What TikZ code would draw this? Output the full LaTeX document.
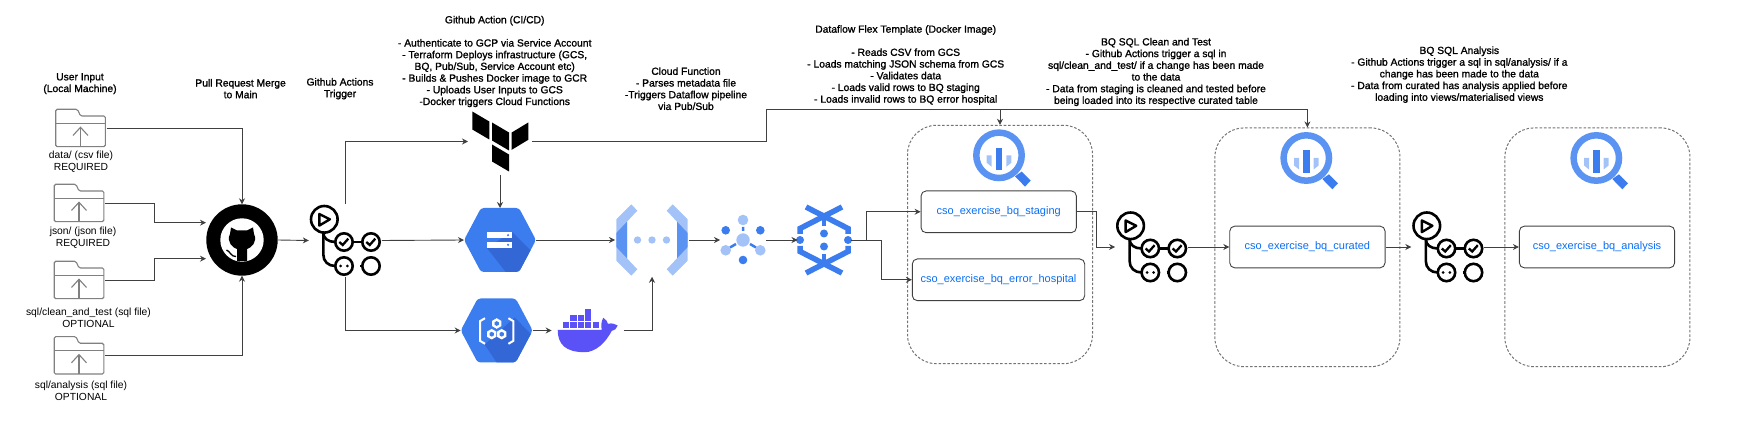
\documentclass[tikz,border=0pt]{standalone}
\usepackage{fontspec}
\setmainfont{Liberation Sans}
\newfontfamily\titlefont[FakeBold=1.3]{Liberation Sans}
\usetikzlibrary{arrows.meta,calc}

\definecolor{gcpblue}{HTML}{3B7CEE}
\definecolor{gcpshade}{HTML}{3367D6}
\definecolor{gcpmid}{HTML}{5B93F2}
\definecolor{gcplight}{HTML}{A3C3F8}
\definecolor{dockerblue}{HTML}{5A52F6}
\definecolor{tabletext}{HTML}{0A6EF5}

\newcommand{\hexpath}{(-36,0) -- (-19,-32) -- (19,-32) -- (36,0) -- (19,32) -- (-19,32) -- cycle}

\tikzset{
    flow/.style={draw=black!75, line width=0.9pt, -{Stealth[length=6pt,width=6pt]}},
    iconbox/.style={inner sep=0pt, outer sep=1pt},
    lbl/.style={align=center, font=\fontsize{10.3}{11.7}\selectfont},
    title/.style={lbl, font=\fontsize{10.3}{11.7}\selectfont\titlefont},
    tablebox/.style={draw=black!75, line width=0.9pt, rounded corners=5pt, text=tabletext,
        inner sep=0pt, font=\fontsize{11}{13}\selectfont},
    dashbox/.style={draw=black!55, line width=1pt, dash pattern=on 2.6pt off 1.8pt, rounded corners=29pt,
        inner sep=0pt, minimum width=185pt},
    foldericon/.pic={
        \draw[black!50, line width=1.1pt, rounded corners=1.5pt]
            (-24.8,-14) -- (-24.8,-18.7) -- (-3,-18.7) -- (0,-12) -- (24.8,-12) -- (24.8,18.7) -- (-24.8,18.7) -- cycle;
        \draw[black!50, line width=1.1pt] (-24.8,-4.7) -- (24.8,-4.7);
        \draw[black!50, line width=1.1pt] (0,18.7) -- (0,-0.7);
        \draw[black!50, line width=1.1pt] (-7.5,7.5) -- (0,-0.7) -- (7.5,7.5);
    },
    githubicon/.pic={
        \fill[black] (0,0) circle (35.7);
        \fill[white] (0,0) circle (21.7);
        \fill[black] (-11,-12.5) -- (-5,-9.5) -- (5,-9.5) -- (11,-12.5) -- (12,-6)
            .. controls (16,2) and (9,8) .. (5,9) -- (5,21) -- (-5,21) -- (-5,9)
            .. controls (-9,8) and (-16,2) .. (-12,-6) -- cycle;
        \draw[black, line width=1.3pt] (-15.5,10) .. controls (-12,11) and (-11,17) .. (-6,16.5);
    },
    actionsicon/.pic={
        \draw[black, line width=2.6pt] (-21,-21.2) circle (13.3);
        \draw[black, line width=2.4pt, line join=round] (-26,-26.5) -- (-26,-14.9) -- (-15.4,-21.2) -- cycle;
        \draw[black, line width=2.6pt] (-1.3,1.5) circle (8.7);
        \draw[black, line width=2.6pt] (25.7,1.5) circle (8.7);
        \draw[black, line width=2.6pt] (-1.3,25.5) circle (8.7);
        \draw[black, line width=2.6pt] (25.7,25.5) circle (8.7);
        \draw[black, line width=2.6pt] (7.4,1.5) -- (17,1.5);
        \draw[black, line width=2.6pt] (15,25.5) -- (17,25.5);
        \draw[black, line width=2.6pt] (-22,-8) .. controls (-22,-2) and (-17,1.5) .. (-10,1.5);
        \draw[black, line width=2.6pt] (-22,-8) -- (-22,14) .. controls (-22,21) and (-17,25.5) .. (-10,25.5);
        \foreach \cx in {-1.3,25.7} {
            \draw[black, line width=2.3pt] (\cx-4.7,1.5) -- (\cx-1.3,4.5) -- (\cx+4.3,-1.8);
        }
        \fill[black] (-4.6,25.5) circle (1.5);
        \fill[black] (2,25.5) circle (1.5);
    },
    terraformicon/.pic={
        \fill[black] (-27.7,-30) -- (-10.7,-20) -- (-10.7,-2) -- (-27.7,-12) -- cycle;
        \fill[black] (-8,-19) -- (9,-9) -- (9,9) -- (-8,-1) -- cycle;
        \fill[black] (11.7,-9) -- (28.3,-19) -- (28.3,-1.7) -- (11.7,8.3) -- cycle;
        \fill[black] (-8,3) -- (9,13) -- (9,30) -- (-8,20) -- cycle;
    },
    gcsicon/.pic={
        \fill[gcpblue, rounded corners=3pt] \hexpath;
        \begin{scope}
            \clip[rounded corners=3pt] \hexpath;
            \fill[gcpshade] (-13,8) -- (12,-8) -- (50,30) -- (12,40) -- cycle;
        \end{scope}
        \fill[white] (-13,-7.7) rectangle (12,-2);
        \fill[white] (-13,1.7) rectangle (12,8);
        \fill[gcpblue] (8,-4.8) circle (1.2);
        \fill[gcpblue] (8,4.8) circle (1.2);
    },
    registryicon/.pic={
        \fill[gcpblue, rounded corners=3pt] \hexpath;
        \begin{scope}
            \clip[rounded corners=3pt] \hexpath;
            \fill[gcpshade] (-12,14) -- (18,-13) -- (50,20) -- (12,50) -- cycle;
        \end{scope}
        \foreach \s in {1,-1} {
            \draw[white, line width=2pt] ({\s*-11.7},-12.3) -- ({\s*-16.7},-9.3) -- ({\s*-16.7},10.3) -- ({\s*-11.7},13.3);
        }
        \foreach \hx/\hy in {0/-7,-5/3.7,5/3.7} {
            \fill[white] (\hx,\hy-5.3) -- (\hx+4.6,\hy-2.6) -- (\hx+4.6,\hy+2.6) -- (\hx,\hy+5.3)
                -- (\hx-4.6,\hy+2.6) -- (\hx-4.6,\hy-2.6) -- cycle;
            \fill[gcpblue] (\hx,\hy-2.4) -- (\hx+2.1,\hy-1.2) -- (\hx+2.1,\hy+1.2) -- (\hx,\hy+2.4)
                -- (\hx-2.1,\hy+1.2) -- (\hx-2.1,\hy-1.2) -- cycle;
        }
    },
    dockericon/.pic={
        \fill[dockerblue] (-3,-21.7) rectangle (3.4,-15.7);
        \foreach \cx in {-17.4,-10,-2.7} { \fill[dockerblue] (\cx,-15) rectangle (\cx+6.2,-9); }
        \foreach \cx in {-25,-17.4,-10,-2.7,5} { \fill[dockerblue] (\cx,-8) rectangle (\cx+6.2,-2); }
        \fill[dockerblue] (-30,-0.7) -- (14,-0.7) .. controls (13,-6) and (14,-10) .. (15.6,-12.7)
            .. controls (18,-11) and (20,-9) .. (20.3,-6.7) .. controls (24,-7.5) and (27,-7) .. (30,-5)
            .. controls (29,-2) and (27,0) .. (24,0.5) .. controls (18,12) and (8,21.7) .. (-3,21.7)
            .. controls (-22,21.7) and (-30,14) .. (-30,-0.7) -- cycle;
    },
    functionicon/.pic={
        \foreach \s in {1,-1} {
            \begin{scope}[xscale=\s]
                \fill[gcplight] (-20.7,-35.7) -- (-14.7,-29.3) -- (-25,-18.3) -- (-25,18.3) -- (-14.7,29.3)
                    -- (-20.7,35.7) -- (-35.7,20.7) -- (-35.7,-20.7) -- cycle;
                \fill[gcpmid] (-25,-18.3) -- (-25,18.3) -- (-35.7,7) -- (-35.7,-7) -- cycle;
            \end{scope}
        }
        \foreach \cx in {-14.5,0,14.5} { \fill[gcplight] (\cx,0) circle (3.7); }
    },
    pubsubicon/.pic={
        \draw[gcpblue, line width=2.5pt] (0,-13) -- (0,-9) (-13,7.5) -- (-7,4) (13,7.5) -- (7,4);
        \fill[gcplight] (0,0) circle (6.7);
        \foreach \px/\py in {0/-20,-17.3/10.3,17.3/10.3} { \fill[gcplight] (\px,\py) circle (5.3); }
        \foreach \px/\py in {-17.3/-9.7,17.3/-9.7,0/20} { \fill[gcpblue] (\px,\py) circle (4.3); }
    },
    dataflowicon/.pic={
        \foreach \s in {1,-1} {
            \begin{scope}[xscale=\s]
                \draw[gcpblue, line width=5.5pt] (-18,-33) -- (24,-11.5) -- (24,-6);
                \draw[gcpblue, line width=5.5pt] (-18,33) -- (24,11.5) -- (24,6);
                \fill[gcpblue] (24,0) circle (4);
            \end{scope}
        }
        \draw[gcpblue, line width=4pt] (0,-24) -- (0,-14) (0,14) -- (0,24);
        \fill[gcpblue] (0,-6.5) circle (4);
        \fill[gcpblue] (0,6.5) circle (4);
    },
    bqicon/.pic={
        \draw[gcpmid, line width=6.5pt] (0,0) circle (22.7);
        \fill[gcpblue] (-3.3,-7.7) rectangle (3.3,14.7);
        \fill[gcplight] (-12.3,0) -- (-7.3,0) -- (-7.3,11.5) -- (-12.3,7.5) -- cycle;
        \fill[gcplight] (12.3,0) -- (7.3,0) -- (7.3,11.5) -- (12.3,7.5) -- cycle;
        \fill[gcpblue] (16,21) -- (22.7,16.3) -- (31.7,25.3) -- (26,31.3) -- cycle;
    }
}

\begin{document}
\begin{tikzpicture}[x=1pt,y=-1pt]
    \useasboundingbox (0,0) rectangle (1743,427);

    % Dashed BigQuery groups
    \node[dashbox, minimum height=238.4pt] (dash1) at (1000,244.5) {};
    \node[dashbox, minimum height=238.7pt] (dash2) at (1307.4,247.3) {};
    \node[dashbox, minimum height=238.7pt] (dash3) at (1597.4,247.3) {};
    \pic at (999,155.3) {bqicon};
    \pic at (1306.3,158) {bqicon};
    \pic at (1596.3,158) {bqicon};

    % Tables
    \node[tablebox, minimum width=155.3pt, minimum height=41.7pt] (staging) at (998.7,211.8) {cso\_exercise\_bq\_staging};
    \node[tablebox, minimum width=172.4pt, minimum height=41.7pt] (hospital) at (998.5,279.8) {cso\_exercise\_bq\_error\_hospital};
    \node[tablebox, minimum width=155.3pt, minimum height=41.7pt] (curated) at (1307.4,247) {cso\_exercise\_bq\_curated};
    \node[tablebox, minimum width=155.3pt, minimum height=41.7pt] (analysis) at (1597,247) {cso\_exercise\_bq\_analysis};

    % Input folders and their labels
    \foreach \nm/\fx/\fy/\lx/\ly/\txt in {
        folder1/80.5/128/81/161.7/{data/ (csv file)\\REQUIRED},
        folder2/79/203/83/237.7/{json/ (json file)\\REQUIRED},
        folder3/79/280/88.5/318/{sql/clean\_and\_test (sql file)\\OPTIONAL},
        folder4/79/355.3/81/390.7/{sql/analysis (sql file)\\OPTIONAL}} {
        \node[iconbox, minimum width=50pt, minimum height=37.5pt] (\nm) at (\fx,\fy) {};
        \pic at (\nm) {foldericon};
        \node[lbl] (\nm text) at (\lx,\ly) {\txt};
    }

    % Icons
    \node[iconbox, minimum width=71.4pt, minimum height=71.4pt, outer sep=0pt] (github) at (242,240) {};
    \pic at (github) {githubicon};
    \foreach \nm/\cx/\cy in {act1/345.3/240.5, act2/1151.6/247, act3/1447.8/247} {
        \node[iconbox, minimum width=71pt, minimum height=71pt] (\nm) at (\cx,\cy) {};
        \pic at (\nm) {actionsicon};
    }
    \node[iconbox, minimum width=56pt, minimum height=60pt, outer sep=4pt] (terraform) at (500,141.5) {};
    \pic at (terraform) {terraformicon};
    \node[iconbox, minimum width=72pt, minimum height=64pt, outer sep=0pt] (gcs) at (500,240) {};
    \pic at (gcs) {gcsicon};
    \node[iconbox, minimum width=72pt, minimum height=64pt, outer sep=0pt] (registry) at (496.7,330.5) {};
    \pic at (registry) {registryicon};
    \node[iconbox, minimum width=60pt, minimum height=44pt, outer sep=6pt] (docker) at (587.7,330.5) {};
    \pic at (docker) {dockericon};
    \node[iconbox, minimum width=72pt, minimum height=71.5pt, outer sep=1pt] (function) at (652,240) {};
    \pic at (function) {functionicon};
    \node[iconbox, minimum width=46pt, minimum height=50pt, outer sep=0pt] (pubsub) at (743,240) {};
    \pic at (pubsub) {pubsubicon};
    \node[iconbox, minimum width=53pt, minimum height=71pt, outer sep=0pt] (dataflow) at (824,240) {};
    \pic at (dataflow) {dataflowicon};

    % Titles
    \node[title] (inputtext) at (80,83.7) {User Input\\(Local Machine)};
    \node[title] (prtext) at (240.6,88.7) {Pull Request Merge\\to Main};
    \node[title] (triggertext) at (340,88.7) {Github Actions\\Trigger};
    \node[title] (cicdtext) at (494.7,61.5) {Github Action (CI/CD)\\[11.5pt]- Authenticate to GCP via Service Account\\- Terraform Deploys infrastructure (GCS,\\BQ, Pub/Sub, Service Account etc)\\- Builds \& Pushes Docker image to GCR\\- Uploads User Inputs to GCS\\-Docker triggers Cloud Functions};
    \node[title] (functiontext) at (686,88.7) {Cloud Function\\- Parses metadata file\\-Triggers Dataflow pipeline\\via Pub/Sub};
    \node[title] (dataflowtext) at (905.7,65) {Dataflow Flex Template (Docker Image)\\[11.5pt]- Reads CSV from GCS\\- Loads matching JSON schema from GCS\\- Validates data\\- Loads valid rows to BQ staging\\- Loads invalid rows to BQ error hospital};
    \node[title] (cleantext) at (1156,72) {BQ SQL Clean and Test\\- Github Actions trigger a sql in\\sql/clean\_and\_test/ if a change has been made\\to the data\\- Data from staging is cleaned and tested before\\being loaded into its respective curated table};
    \node[title] (analysistext) at (1459.3,74.7) {BQ SQL Analysis\\- Github Actions trigger a sql in sql/analysis/ if a\\change has been made to the data\\- Data from curated has analysis applied before\\loading into views/materialised views};

    % Connectors
    \coordinate (bus) at (766.7,109.3);
    \coordinate (ghin1) at (206,222.7);
    \coordinate (ghin2) at (206,258.7);
    \draw[flow] (folder1.east) -| (github.north);
    \draw[flow] (folder2.east) -- ++(49.5,0) |- (ghin1);
    \draw[flow] (folder3.east) -- ++(49.5,0) |- (ghin2);
    \draw[flow] (folder4.east) -| (github.south);
    \draw[flow] (github.east) -- (act1.west);
    \draw[flow] (act1.north) |- (terraform.west);
    \draw[flow] (act1.east) -- (gcs.west);
    \draw[flow] (act1.south) |- (registry.west);
    \draw[flow] (terraform.south) -- (gcs.north);
    \draw[flow] (terraform.east) -| (bus) -| (dash2.north);
    \draw[flow] (bus) -| (dash1.north);
    \draw[flow] (registry.east) -- (docker.west);
    \draw[flow] (docker.east) -| (function.south);
    \draw[flow] (gcs.east) -- (function.west);
    \draw[flow] (function.east) -- (pubsub.west);
    \draw[flow] (pubsub.east) -- (dataflow.west);
    \draw[flow] (dataflow.east) -- ++(15.5,0) |- (staging.west);
    \draw[flow] (dataflow.east) -- ++(31,0) |- (hospital.west);
    \draw[flow] (staging.east) -- ++(19.7,0) |- (act2.west);
    \draw[flow] (act2.east) -- (curated.west);
    \draw[flow] (curated.east) -- (act3.west);
    \draw[flow] (act3.east) -- (analysis.west);
\end{tikzpicture}
\end{document}
